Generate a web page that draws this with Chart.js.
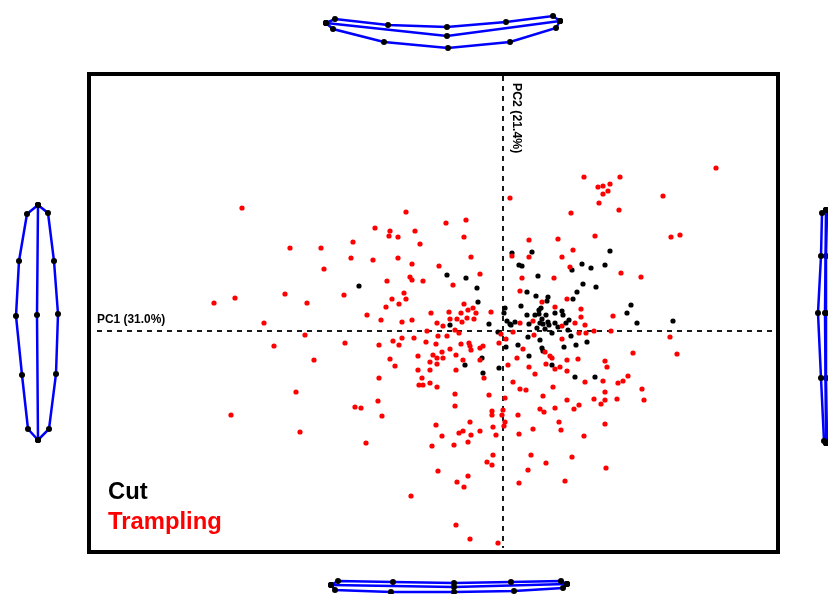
<!DOCTYPE html>
<html>
<head>
<meta charset="utf-8">
<title>PCA of wing shape</title>
<script src="https://cdn.jsdelivr.net/npm/chart.js@4"></script>
<style>
  html, body { margin: 0; padding: 0; background: #fff; }
  #page { position: relative; width: 828px; height: 594px; overflow: hidden; font-family: "Liberation Sans", Arial, sans-serif; font-weight: bold; }
  canvas { position: absolute; display: block; }
  #frame { position: absolute; left: 87px; top: 72px; width: 685px; height: 474px; border: 4px solid #000; }
  .label { position: absolute; white-space: nowrap; color: #000; }
  #pc1 { left: 97px; top: 312px; font-size: 12.3px; transform-origin: left top; transform: scaleX(.97); }
  #pc2 { left: 510px; top: 83px; font-size: 12.3px; writing-mode: vertical-rl; }
  #legendCut { left: 108px; top: 477px; font-size: 23.8px; }
  #legendTrampling { left: 108px; top: 507px; font-size: 23.8px; color: #f00; }
</style>
</head>
<body>
<div id="page">
  <div id="frame"></div>
  <canvas id="mainChart" width="685" height="474" style="left:91px;top:76px"></canvas>
  <canvas id="topShape" width="260" height="44" style="left:317px;top:8px"></canvas>
  <canvas id="bottomShape" width="260" height="24" style="left:320px;top:570px"></canvas>
  <canvas id="leftShape" width="62" height="254" style="left:6px;top:195px"></canvas>
  <canvas id="rightShape" width="20" height="254" style="left:808px;top:200px"></canvas>
  <div class="label" id="pc1">PC1 (31.0%)</div>
  <div class="label" id="pc2">PC2 (21.4%)</div>
  <div class="label" id="legendCut">Cut</div>
  <div class="label" id="legendTrampling">Trampling</div>
</div>
<script>
// PC scores
const cutScores = [
  [-.056,.056],[-.037,.053],[-.144,.045],[.009,.078],[.016,.066],[.029,.079],[.107,.080],[.019,.065],
  [.079,.067],[.088,.063],[.102,.066],[.069,.061],[.035,.055],[.080,.047],[.093,.044],[.074,.039],
  [.024,.039],[.033,.035],[.045,.034],[.044,.030],[.070,.032],[.018,.025],[.038,.023],[.036,.021],
  [.128,.026],[.124,.018],[.059,.020],[.060,.016],[.052,.018],[.024,.016],[.032,.016],[.036,.017],
  [.043,.016],[.039,.012],[.066,.011],[.170,.010],[-.026,.043],[-.025,.029],[.002,.023],[.001,.018],
  [.004,.010],[-.014,.007],[.007,.007],[-.053,.006],[-.005,-.001],[.003,-.016],[-.021,-.027],[-.038,-.034],
  [-.004,-.037],[-.020,-.042],[.012,.009],[.008,.006],[.026,.007],[.037,.008],[.040,.007],[.045,.009],
  [.046,.006],[.052,.008],[.063,.008],[.055,.004],[.034,.003],[.042,.002],[.049,-.002],[.065,.001],
  [.068,-.005],[.025,-.006],[.037,-.009],[.084,-.011],[.073,-.014],[.061,-.016],[.015,-.014],[.039,-.017],
  [.040,-.020],[.026,-.025],[.049,-.034],[.072,-.046],[.092,-.046],[.134,.008]
]

const tramplingScores = [
  [-.261,.123],[-.213,.083],[-.182,.083],[-.150,.089],[-.152,.073],[-.179,.062],[-.097,.119],[-.057,.108],
  [-.037,.111],[-.128,.103],[-.113,.100],[-.114,.095],[-.105,.094],[-.088,.100],[-.083,.087],[-.039,.094],
  [.007,.133],[-.130,.071],[-.105,.073],[-.091,.067],[-.064,.065],[-.032,.074],[-.023,.057],[-.093,.054],
  [-.091,.051],[-.116,.050],[-.080,.050],[.009,.075],[.213,.163],[.081,.154],[.117,.154],[.095,.144],
  [.100,.145],[.107,.147],[.105,.140],[.100,.137],[.096,.128],[.160,.135],[.068,.118],[.116,.121],
  [.026,.091],[.055,.092],[.092,.095],[.168,.094],[.177,.096],[.070,.081],[.026,.074],[.059,.074],
  [.067,.064],[.118,.058],[.138,.054],[.019,.053],[.051,.053],[.017,.040],[.064,.032],[.039,.029],
  [.052,.024],[.078,.022],[.078,.014],[.110,.015],[.030,.010],[-.289,.028],[-.268,.033],[-.218,.037],
  [-.196,.028],[-.159,.036],[-.111,.032],[-.117,.024],[-.104,.027],[-.136,.016],[-.122,.011],[-.239,.008],
  [-.198,-.004],[-.229,-.015],[-.189,-.029],[-.158,-.012],[-.124,-.014],[-.110,-.010],[-.104,-.014],[-.113,-.028],
  [-.108,-.035],[-.124,-.047],[-.207,-.061],[-.125,-.070],[-.148,-.076],[-.142,-.077],[-.121,-.085],[-.272,-.084],
  [-.203,-.101],[-.137,-.112],[-.101,.009],[-.101,-.007],[-.050,.046],[-.099,.038],[-.097,.032],[-.039,.027],
  [-.030,.023],[-.035,.021],[-.042,.018],[-.027,.018],[-.012,.019],[-.072,.018],[-.054,.019],[-.053,.012],
  [-.046,.012],[-.036,.013],[-.029,.012],[-.041,.009],[-.091,.011],[-.066,.008],[-.060,.005],[-.048,.001],
  [-.044,-.002],[-.076,0],[-.065,-.005],[-.056,-.005],[-.089,-.007],[-.077,-.011],[-.067,-.013],[-.042,-.013],
  [-.034,-.012],[-.033,-.015],[-.032,-.019],[-.020,-.015],[-.023,-.017],[-.053,-.018],[-.061,-.021],[-.070,-.024],
  [-.085,-.025],[-.066,-.027],[-.060,-.027],[-.047,-.024],[-.040,-.029],[-.023,-.029],[-.073,-.031],[-.066,-.033],
  [-.085,-.039],[-.073,-.039],[-.047,-.039],[-.081,-.047],[-.073,-.052],[-.084,-.054],[-.080,-.054],[-.066,-.056],
  [-.019,-.047],[-.002,-.003],[-.004,-.012],[.003,-.008],[.005,-.034],[.017,.008],[.059,.005],[.072,.008],
  [.082,.006],[.010,-.001],[.031,-.004],[.076,-.002],[.083,-.002],[.091,0],[.059,-.008],[.020,-.018],
  [.014,-.027],[.042,-.021],[.047,-.025],[.049,-.027],[.064,-.029],[.075,-.028],[.102,-.030],[.104,-.036],
  [.043,-.033],[.026,-.036],[.052,-.038],[.057,-.036],[.064,-.040],[.032,-.043],[.010,-.051],[.082,-.051],
  [.100,-.050],[.050,-.056],[.017,-.058],[.023,-.059],[.108,0],[.167,-.006],[.174,-.023],[.130,-.022],
  [.125,-.045],[.120,-.050],[.115,-.052],[.139,-.058],[.102,-.061],[.141,-.069],[.114,-.068],[.102,-.069],
  [.091,-.068],[.098,-.073],[.064,-.069],[.076,-.074],[.071,-.078],[.052,-.077],[.102,-.093],[.056,-.091],
  [.058,-.099],[.081,-.105],[.069,-.126],[.103,-.137],[.062,-.150],[-.048,-.063],[-.014,-.064],[.002,-.067],
  [.040,-.065],[-.048,-.075],[0,-.079],[-.011,-.080],[-.011,-.084],[-.001,-.084],[.015,-.084],[.037,-.078],
  [.041,-.081],[-.033,-.091],[.002,-.091],[.001,-.095],[-.010,-.096],[-.067,-.094],[.030,-.098],[-.023,-.100],
  [-.040,-.100],[-.044,-.102],[-.032,-.104],[-.007,-.104],[.016,-.103],[-.061,-.105],[-.035,-.111],[-.071,-.115],
  [-.049,-.114],[-.010,-.124],[.028,-.124],[-.016,-.131],[-.011,-.134],[.043,-.132],[.025,-.139],[-.065,-.140],
  [-.035,-.145],[-.046,-.151],[-.039,-.156],[.016,-.152],[-.092,-.165],[-.047,-.194],[-.033,-.208],[-.005,-.212]
]

// dashed axes through the origin
const pc1Axis = [[-.406,0],[.273,0]]
const pc2Axis = [[0,.255],[0,-.217]]

// wireframes of the extreme shapes, one list per outline
const topUpper = [[-121,7],[-112,11],[-59,5],[0,3],[59,8],[106,14],[113,9]]
const topMiddle = [[-121,7],[0,-6],[113,9]]
const topLower = [[-121,7],[-114,1],[-63,-12],[1,-18],[63,-12],[109,2],[113,9]]

const bottomUpper = [[-119,1],[-112,5],[-57,4],[4,3],[61,4],[111,5],[117,2]]
const bottomMiddle = [[-119,1],[4,-1],[117,2]]
const bottomLower = [[-119,1],[-115,-4],[-59,-6],[4,-6],[64,-5],[113,-2],[117,2]]

const leftOuter = [[1,117],[-10,108],[-18,61],[-21,6],[-15,-53],[-9,-107],[1,-118]]
const leftMiddle = [[1,117],[0,7],[1,-118]]
const leftInner = [[1,117],[11,109],[17,61],[21,8],[19,-52],[12,-107],[1,-118]]

const rightOuter = [[0,117],[-4,114],[-5,71],[-8,14],[-5,-51],[-2,-114],[0,-116]]
const rightMiddle = [[0,117],[-1,14],[0,-116]]
const rightInner = [[0,117],[1,114],[0,71],[0,14],[0,-51],[1,-114],[0,-116]]

const toPoints = (pairs) => pairs.map((p) => ({ x: p[0], y: p[1] }))

const hiddenScales = (xMin, xMax, yMin, yMax) => ({
  x: { type: "linear", display: false, min: xMin, max: xMax },
  y: { type: "linear", display: false, min: yMin, max: yMax },
})

const baseOptions = {
  responsive: false,
  animation: false,
  layout: { padding: 0, autoPadding: false },
  plugins: { legend: { display: false }, tooltip: { enabled: false } },
}

const axisLine = (pairs) => ({
  data: toPoints(pairs),
  showLine: true,
  pointRadius: 0,
  borderColor: "#000",
  borderWidth: 1.8,
  borderDash: [5, 5],
})

const dots = (label, pairs, color) => ({
  label: label,
  data: toPoints(pairs),
  pointRadius: 2.6,
  pointBorderWidth: 0,
  pointBackgroundColor: color,
})

new Chart(document.getElementById("mainChart"), {
  type: "scatter",
  data: {
    // first dataset is painted last
    datasets: [
      dots("Trampling", tramplingScores, "#ff0000"),
      dots("Cut", cutScores, "#000000"),
      axisLine(pc1Axis),
      axisLine(pc2Axis),
    ],
  },
  options: { ...baseOptions, scales: hiddenScales(-.412, .273, -.219, .255) },
})

function shapeChart(id, outlines, xMin, xMax, yMin, yMax) {
  new Chart(document.getElementById(id), {
    type: "scatter",
    data: {
      datasets: outlines.map((pairs) => ({
        data: toPoints(pairs),
        showLine: true,
        clip: false,
        borderColor: "#0000ff",
        borderWidth: 2.5,
        pointRadius: 3,
        pointBorderWidth: 0,
        pointBackgroundColor: "#000",
      })),
    },
    options: { ...baseOptions, scales: hiddenScales(xMin, xMax, yMin, yMax) },
  })
}

shapeChart("topShape", [topUpper, topMiddle, topLower], -130, 130, -22, 22)
shapeChart("bottomShape", [bottomUpper, bottomMiddle, bottomLower], -130, 130, -8, 16)
shapeChart("leftShape", [leftOuter, leftMiddle, leftInner], -31, 31, -127, 127)
shapeChart("rightShape", [rightOuter, rightMiddle, rightInner], -18, 2, -127, 127)
</script>
</body>
</html>
